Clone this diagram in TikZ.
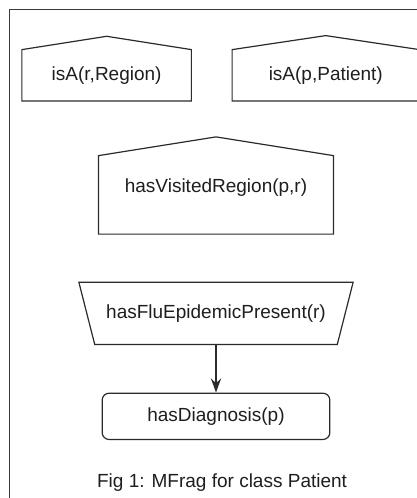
\documentclass[tikz,border=0pt]{standalone}
\usepackage{fontspec}
\setmainfont{Liberation Sans}
\usepackage{xcolor}
\definecolor{FrameGray}{HTML}{3A3A3A}
\definecolor{EdgeGray}{HTML}{2B2B2B}
\definecolor{LabelGray}{HTML}{1E1E1E}
\usetikzlibrary{arrows.meta,positioning}

\begin{document}
\begin{tikzpicture}[node distance=0.85cm, >=Stealth, every node/.style={font=\fontsize{9.5bp}{11.4bp}\selectfont, text=LabelGray, align=center},
    contextnode/.style={minimum height=0.894cm, inner sep=2pt, append after command={\pgfextra{\draw[line width=0.6bp, EdgeGray] (\tikzlastnode.south west) -- (\tikzlastnode.north west) -- ([yshift=#1]\tikzlastnode.north) -- (\tikzlastnode.north east) -- (\tikzlastnode.south east) -- cycle;}}},
    inputnode/.style={minimum width=4.823cm, minimum height=1.081cm, inner sep=2pt, append after command={\pgfextra{\draw[line width=0.6bp, EdgeGray] (\tikzlastnode.north west) -- (\tikzlastnode.north east) -- ([xshift=-0.279cm]\tikzlastnode.south east) -- ([xshift=0.279cm]\tikzlastnode.south west) -- cycle;}}},
    residentnode/.style={draw=EdgeGray, line width=0.6bp, rounded corners=0.123cm, minimum width=4.016cm, minimum height=0.817cm}]
        \useasboundingbox (0,0) rectangle (7.355,-8.784);
        \clip (0,0) rectangle (7.355,-8.784);
        % MFrag frame, only its top and left sides fall inside the page
        \draw[line width=0.6bp, FrameGray] (0.168,-9.2) |- (7.6,-0.164);
        \node[contextnode=0.235cm, minimum width=2.976cm] (region) at (1.881,-1.329) {isA(r,Region)};
        \node[contextnode=0.247cm, minimum width=3.291cm, right=0.718cm of region] (patient) {isA(p,Patient)};
        \node[contextnode=0.330cm, minimum width=4.128cm, minimum height=1.371cm] (visited) at (3.81,-3.437) {\raisebox{3.75bp}[\height][\depth]{hasVisitedRegion(p,r)}};
        \node[inputnode, below=of visited] (flu) {hasFluEpidemicPresent(r)};
        \node[residentnode, below=of flu] (diagnosis) {hasDiagnosis(p)};
        \draw[->, >={Stealth[length=7bp, width=5bp]}, line width=1bp, EdgeGray] (flu) -- (diagnosis);
        \node[anchor=base west, inner sep=0pt] (caption) at (1.706,-8.590) {Fig 1: MFrag for class Patient};
    \end{tikzpicture}
\end{document}
